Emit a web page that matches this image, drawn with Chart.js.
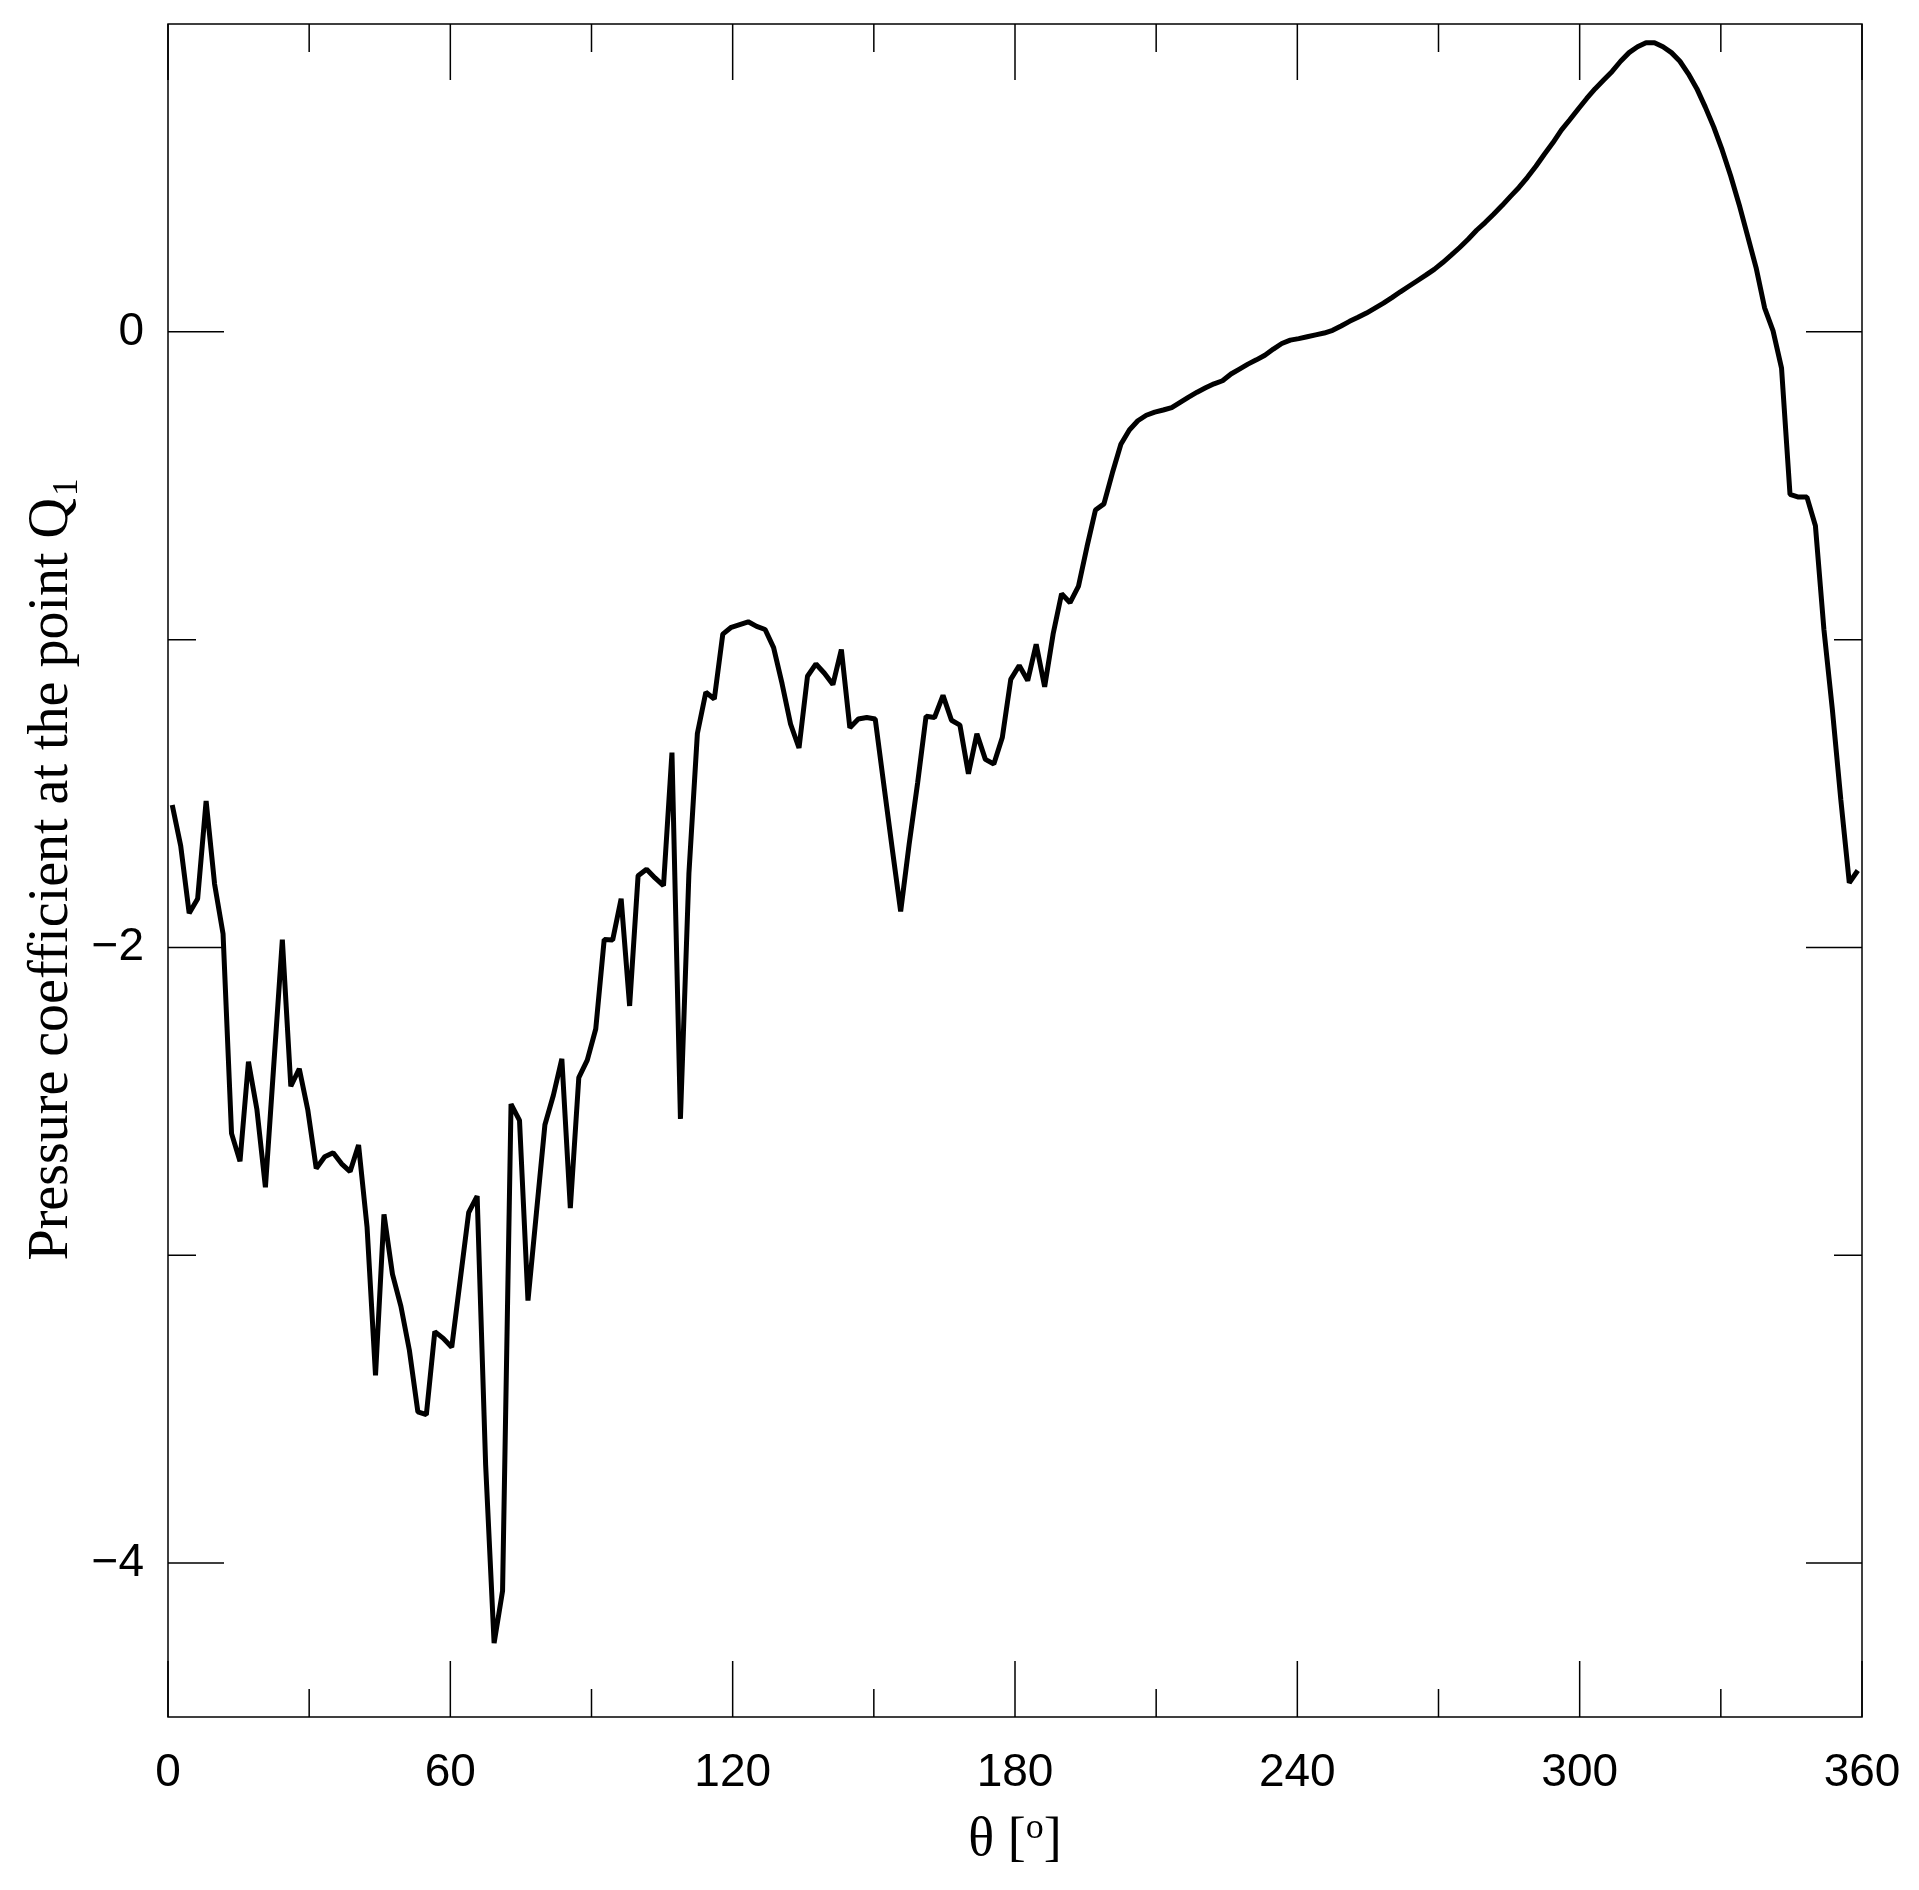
<!DOCTYPE html>
<html>
<head>
<meta charset="utf-8">
<script src="https://cdn.jsdelivr.net/npm/chart.js@4.4.0/dist/chart.umd.min.js"></script>
<style>
  body { margin: 0; background: #fff; }
  canvas { display: block; }
</style>
</head>
<body>
<canvas id="graph" width="1919" height="1890"></canvas>
<script>
// angles of the samples: centres of 1.8 degree steps, 0.9 ... 359.1
const theta = [];
for (let i = 0; i < 200; i++) {
  theta.push(Math.round((0.9 + 1.8 * i) * 10) / 10);
}

// pressure coefficient at Q1 (one per angle)
const cp = [
  -1.537, -1.670, -1.889, -1.842, -1.524, -1.794, -1.956, -2.604, -2.695, -2.371,
  -2.527, -2.779, -2.377, -1.975, -2.451, -2.394, -2.527, -2.718, -2.680, -2.667,
  -2.703, -2.728, -2.642, -2.908, -3.390, -2.867, -3.061, -3.166, -3.309, -3.509,
  -3.518, -3.248, -3.270, -3.299, -3.080, -2.861, -2.808, -3.680, -4.260, -4.090,
  -2.509, -2.562, -3.147, -2.861, -2.576, -2.480, -2.362, -2.847, -2.423, -2.366,
  -2.265, -1.974, -1.976, -1.842, -2.190, -1.767, -1.746, -1.774, -1.799, -1.367,
  -2.557, -1.760, -1.305, -1.171, -1.193, -0.982, -0.960, -0.951, -0.942, -0.957,
  -0.967, -1.026, -1.143, -1.274, -1.352, -1.119, -1.079, -1.109, -1.146, -1.032,
  -1.286, -1.258, -1.253, -1.258, -1.469, -1.678, -1.883, -1.665, -1.466, -1.249,
  -1.253, -1.181, -1.262, -1.278, -1.436, -1.306, -1.389, -1.404, -1.318, -1.129,
  -1.084, -1.133, -1.015, -1.153, -0.982, -0.851, -0.880, -0.826, -0.698, -0.579,
  -0.559, -0.458, -0.365, -0.319, -0.289, -0.271, -0.261, -0.254, -0.246, -0.229,
  -0.212, -0.196, -0.182, -0.169, -0.159, -0.137, -0.121, -0.105, -0.091, -0.076,
  -0.056, -0.038, -0.027, -0.022, -0.016, -0.010, -0.004, 0.005, 0.019, 0.034,
  0.047, 0.061, 0.077, 0.093, 0.111, 0.130, 0.148, 0.166, 0.184, 0.203,
  0.225, 0.249, 0.274, 0.301, 0.330, 0.355, 0.382, 0.410, 0.440, 0.469,
  0.502, 0.538, 0.577, 0.614, 0.655, 0.689, 0.724, 0.758, 0.790, 0.818,
  0.846, 0.879, 0.907, 0.926, 0.939, 0.939, 0.926, 0.907, 0.879, 0.838,
  0.790, 0.730, 0.665, 0.590, 0.506, 0.413, 0.311, 0.208, 0.078, 0.003,
  -0.118, -0.528, -0.537, -0.537, -0.630, -0.966, -1.227, -1.520, -1.790, -1.750
];

// axes
const xTicks = [0, 30, 60, 90, 120, 150, 180, 210, 240, 270, 300, 330, 360];
const xLabels = [0, 60, 120, 180, 240, 300, 360];
const yTicks = [-4, -3, -2, -1, 0];
const yLabels = [-4, -2, 0];

const xTitle = 'θ [';
const xTitleSup = 'o';
const xTitleEnd = ']';
const yTitle = 'Pressure coefficient at the point Q';
const yTitleSub = '1';

const MAJOR = 56, MINOR = 28;

// frame + inward ticks on all four sides
const frameTicks = {
  id: 'frameTicks',
  beforeDatasetsDraw(chart) {
    const { ctx, chartArea: a, scales: { x, y } } = chart;
    ctx.save();
    ctx.strokeStyle = '#000';
    ctx.lineWidth = 1.5;
    ctx.strokeRect(a.left, a.top, a.right - a.left, a.bottom - a.top);
    ctx.beginPath();
    xTicks.forEach(v => {
      const px = x.getPixelForValue(v);
      const len = xLabels.includes(v) ? MAJOR : MINOR;
      ctx.moveTo(px, a.bottom); ctx.lineTo(px, a.bottom - len);
      ctx.moveTo(px, a.top); ctx.lineTo(px, a.top + len);
    });
    yTicks.forEach(v => {
      const py = y.getPixelForValue(v);
      const len = yLabels.includes(v) ? MAJOR : MINOR;
      ctx.moveTo(a.left, py); ctx.lineTo(a.left + len, py);
      ctx.moveTo(a.right, py); ctx.lineTo(a.right - len, py);
    });
    ctx.stroke();
    ctx.restore();
  },
  afterDraw(chart) {
    const { ctx, chartArea: a } = chart;
    ctx.save();
    ctx.fillStyle = '#000';
    ctx.textBaseline = 'alphabetic';
    ctx.textAlign = 'left';

    // x title with superscript
    const big = '54px "Liberation Serif", serif';
    const small = '36px "Liberation Serif", serif';
    ctx.font = big;
    const w1 = ctx.measureText(xTitle).width;
    const w3 = ctx.measureText(xTitleEnd).width;
    ctx.font = small;
    const w2 = ctx.measureText(xTitleSup).width;
    let sx = (a.left + a.right) / 2 - (w1 + w2 + w3) / 2;
    const base = 1855;
    ctx.font = big;
    ctx.fillText(xTitle, sx, base);
    ctx.font = small;
    ctx.fillText(xTitleSup, sx + w1, base - 17);
    ctx.font = big;
    ctx.fillText(xTitleEnd, sx + w1 + w2, base);

    // y title with subscript, rotated
    ctx.translate(67, (a.top + a.bottom) / 2);
    ctx.rotate(-Math.PI / 2);
    const yBig = '56px "Liberation Serif", serif';
    const ySmall = '35px "Liberation Serif", serif';
    ctx.font = yBig;
    const t1 = ctx.measureText(yTitle).width;
    ctx.font = ySmall;
    const t2 = ctx.measureText(yTitleSub).width;
    const start = -(t1 + t2) / 2;
    ctx.font = yBig;
    ctx.fillText(yTitle, start, 0);
    ctx.font = ySmall;
    ctx.fillText(yTitleSub, start + t1 + 2, 10);
    ctx.restore();
  }
};

const tickFont = { family: '"Liberation Sans", Arial, sans-serif', size: 46 };

const config = {
  type: 'line',
  data: {
    datasets: [{
      data: theta.map((t, i) => ({ x: t, y: cp[i] })),
      borderColor: '#000',
      borderWidth: 5,
      borderJoinStyle: 'bevel',
      pointRadius: 0,
      tension: 0,
      fill: false
    }]
  },
  options: {
    responsive: false,
    animation: false,
    layout: { padding: { top: 24, right: 57, left: 0, bottom: 0 } },
    plugins: { legend: { display: false }, tooltip: { enabled: false } },
    scales: {
      x: {
        type: 'linear',
        min: 0,
        max: 360,
        afterBuildTicks: s => { s.ticks = xTicks.map(v => ({ value: v })); },
        afterFit: s => { s.height = 173; s.paddingLeft = 0; s.paddingRight = 0; },
        grid: { display: false, drawTicks: false },
        border: { display: false },
        ticks: {
          autoSkip: false,
          maxRotation: 0,
          padding: 29,
          color: '#000',
          font: tickFont,
          callback: v => xLabels.includes(v) ? String(v) : ''
        }
      },
      y: {
        type: 'linear',
        min: -4.5,
        max: 1,
        afterBuildTicks: s => { s.ticks = yTicks.map(v => ({ value: v })); },
        afterFit: s => { s.width = 168; s.paddingTop = 0; s.paddingBottom = 0; },
        grid: { display: false, drawTicks: false },
        border: { display: false },
        ticks: {
          padding: 24,
          color: '#000',
          font: tickFont,
          callback: v => yLabels.includes(v) ? (v < 0 ? '\u2212' + Math.abs(v) : String(v)) : ''
        }
      }
    }
  },
  plugins: [frameTicks]
};

const cpChart = new Chart(document.getElementById('graph'), config);
</script>
</body>
</html>
